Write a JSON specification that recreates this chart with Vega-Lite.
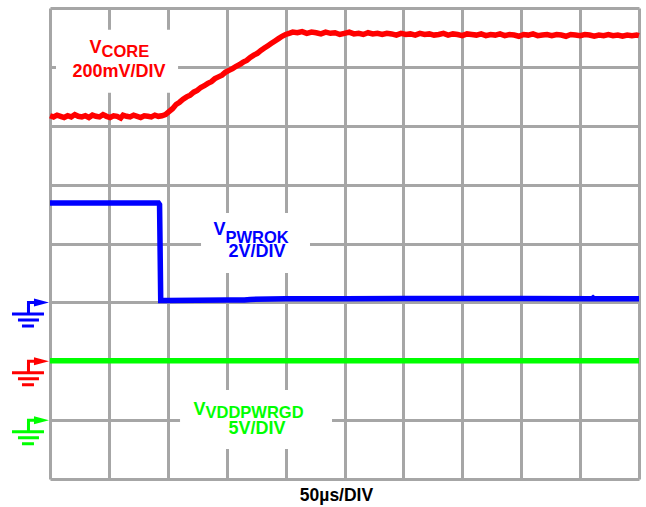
{
  "$schema": "https://vega.github.io/schema/vega-lite/v6.json",
  "autosize": {"type": "none"},
  "width": 589,
  "height": 471,
  "padding": {"left": 50, "top": 8, "right": 7, "bottom": 28},
  "background": "white",
  "config": {"view": {"stroke": null}, "font": "Liberation Sans"},
  "datasets": {
    "traces": [
      {"trace": "VCORE", "t": 0, "v": 6.17}, {"trace": "VCORE", "t": 3, "v": 6.15}, {"trace": "VCORE", "t": 6, "v": 6.18}, {"trace": "VCORE", "t": 9, "v": 6.16},
      {"trace": "VCORE", "t": 12, "v": 6.14}, {"trace": "VCORE", "t": 15, "v": 6.17}, {"trace": "VCORE", "t": 18, "v": 6.15}, {"trace": "VCORE", "t": 21, "v": 6.19},
      {"trace": "VCORE", "t": 24, "v": 6.16}, {"trace": "VCORE", "t": 27, "v": 6.15}, {"trace": "VCORE", "t": 30, "v": 6.17}, {"trace": "VCORE", "t": 33, "v": 6.14},
      {"trace": "VCORE", "t": 36, "v": 6.18}, {"trace": "VCORE", "t": 39, "v": 6.16}, {"trace": "VCORE", "t": 42, "v": 6.15}, {"trace": "VCORE", "t": 45, "v": 6.19},
      {"trace": "VCORE", "t": 48, "v": 6.16}, {"trace": "VCORE", "t": 51, "v": 6.14}, {"trace": "VCORE", "t": 54, "v": 6.17}, {"trace": "VCORE", "t": 57, "v": 6.16},
      {"trace": "VCORE", "t": 60, "v": 6.13}, {"trace": "VCORE", "t": 62, "v": 6.18}, {"trace": "VCORE", "t": 65, "v": 6.16}, {"trace": "VCORE", "t": 68, "v": 6.15},
      {"trace": "VCORE", "t": 71, "v": 6.18}, {"trace": "VCORE", "t": 74, "v": 6.16}, {"trace": "VCORE", "t": 77, "v": 6.14}, {"trace": "VCORE", "t": 80, "v": 6.17},
      {"trace": "VCORE", "t": 83, "v": 6.16}, {"trace": "VCORE", "t": 86, "v": 6.15}, {"trace": "VCORE", "t": 89, "v": 6.18}, {"trace": "VCORE", "t": 92, "v": 6.16},
      {"trace": "VCORE", "t": 95, "v": 6.17}, {"trace": "VCORE", "t": 98, "v": 6.19}, {"trace": "VCORE", "t": 101, "v": 6.24}, {"trace": "VCORE", "t": 104, "v": 6.29},
      {"trace": "VCORE", "t": 107, "v": 6.36}, {"trace": "VCORE", "t": 110, "v": 6.4}, {"trace": "VCORE", "t": 113, "v": 6.45}, {"trace": "VCORE", "t": 116, "v": 6.49},
      {"trace": "VCORE", "t": 119, "v": 6.52}, {"trace": "VCORE", "t": 122, "v": 6.57}, {"trace": "VCORE", "t": 125, "v": 6.6}, {"trace": "VCORE", "t": 128, "v": 6.65},
      {"trace": "VCORE", "t": 131, "v": 6.68}, {"trace": "VCORE", "t": 134, "v": 6.72}, {"trace": "VCORE", "t": 137, "v": 6.75}, {"trace": "VCORE", "t": 140, "v": 6.8},
      {"trace": "VCORE", "t": 143, "v": 6.83}, {"trace": "VCORE", "t": 146, "v": 6.86}, {"trace": "VCORE", "t": 149, "v": 6.91}, {"trace": "VCORE", "t": 152, "v": 6.94},
      {"trace": "VCORE", "t": 155, "v": 6.97}, {"trace": "VCORE", "t": 158, "v": 7.01}, {"trace": "VCORE", "t": 161, "v": 7.04}, {"trace": "VCORE", "t": 164, "v": 7.08},
      {"trace": "VCORE", "t": 167, "v": 7.11}, {"trace": "VCORE", "t": 170, "v": 7.16}, {"trace": "VCORE", "t": 173, "v": 7.2}, {"trace": "VCORE", "t": 176, "v": 7.23},
      {"trace": "VCORE", "t": 179, "v": 7.28}, {"trace": "VCORE", "t": 182, "v": 7.32}, {"trace": "VCORE", "t": 185, "v": 7.36}, {"trace": "VCORE", "t": 188, "v": 7.4},
      {"trace": "VCORE", "t": 191, "v": 7.44}, {"trace": "VCORE", "t": 194, "v": 7.48}, {"trace": "VCORE", "t": 197, "v": 7.52}, {"trace": "VCORE", "t": 200, "v": 7.55},
      {"trace": "VCORE", "t": 203, "v": 7.57}, {"trace": "VCORE", "t": 206, "v": 7.59}, {"trace": "VCORE", "t": 210, "v": 7.58}, {"trace": "VCORE", "t": 214, "v": 7.6},
      {"trace": "VCORE", "t": 218, "v": 7.57}, {"trace": "VCORE", "t": 222, "v": 7.59}, {"trace": "VCORE", "t": 226, "v": 7.58}, {"trace": "VCORE", "t": 230, "v": 7.56},
      {"trace": "VCORE", "t": 234, "v": 7.59}, {"trace": "VCORE", "t": 238, "v": 7.57}, {"trace": "VCORE", "t": 242, "v": 7.58}, {"trace": "VCORE", "t": 246, "v": 7.55},
      {"trace": "VCORE", "t": 250, "v": 7.57}, {"trace": "VCORE", "t": 254, "v": 7.59}, {"trace": "VCORE", "t": 258, "v": 7.56}, {"trace": "VCORE", "t": 262, "v": 7.57},
      {"trace": "VCORE", "t": 266, "v": 7.55}, {"trace": "VCORE", "t": 270, "v": 7.58}, {"trace": "VCORE", "t": 274, "v": 7.56}, {"trace": "VCORE", "t": 278, "v": 7.57},
      {"trace": "VCORE", "t": 282, "v": 7.55}, {"trace": "VCORE", "t": 286, "v": 7.57}, {"trace": "VCORE", "t": 290, "v": 7.56}, {"trace": "VCORE", "t": 294, "v": 7.54},
      {"trace": "VCORE", "t": 298, "v": 7.57}, {"trace": "VCORE", "t": 302, "v": 7.55}, {"trace": "VCORE", "t": 306, "v": 7.56}, {"trace": "VCORE", "t": 310, "v": 7.54},
      {"trace": "VCORE", "t": 314, "v": 7.57}, {"trace": "VCORE", "t": 318, "v": 7.55}, {"trace": "VCORE", "t": 322, "v": 7.56}, {"trace": "VCORE", "t": 326, "v": 7.54},
      {"trace": "VCORE", "t": 330, "v": 7.55}, {"trace": "VCORE", "t": 334, "v": 7.57}, {"trace": "VCORE", "t": 338, "v": 7.54}, {"trace": "VCORE", "t": 342, "v": 7.56},
      {"trace": "VCORE", "t": 346, "v": 7.55}, {"trace": "VCORE", "t": 350, "v": 7.53}, {"trace": "VCORE", "t": 354, "v": 7.56}, {"trace": "VCORE", "t": 358, "v": 7.55},
      {"trace": "VCORE", "t": 362, "v": 7.54}, {"trace": "VCORE", "t": 366, "v": 7.56}, {"trace": "VCORE", "t": 370, "v": 7.53}, {"trace": "VCORE", "t": 374, "v": 7.55},
      {"trace": "VCORE", "t": 378, "v": 7.54}, {"trace": "VCORE", "t": 382, "v": 7.56}, {"trace": "VCORE", "t": 386, "v": 7.53}, {"trace": "VCORE", "t": 390, "v": 7.55},
      {"trace": "VCORE", "t": 394, "v": 7.54}, {"trace": "VCORE", "t": 398, "v": 7.52}, {"trace": "VCORE", "t": 402, "v": 7.55}, {"trace": "VCORE", "t": 406, "v": 7.54},
      {"trace": "VCORE", "t": 410, "v": 7.56}, {"trace": "VCORE", "t": 414, "v": 7.53}, {"trace": "VCORE", "t": 418, "v": 7.54}, {"trace": "VCORE", "t": 422, "v": 7.55},
      {"trace": "VCORE", "t": 426, "v": 7.53}, {"trace": "VCORE", "t": 430, "v": 7.55}, {"trace": "VCORE", "t": 434, "v": 7.54}, {"trace": "VCORE", "t": 438, "v": 7.52},
      {"trace": "VCORE", "t": 442, "v": 7.55}, {"trace": "VCORE", "t": 446, "v": 7.54}, {"trace": "VCORE", "t": 450, "v": 7.53}, {"trace": "VCORE", "t": 454, "v": 7.55},
      {"trace": "VCORE", "t": 458, "v": 7.54}, {"trace": "VCORE", "t": 462, "v": 7.52}, {"trace": "VCORE", "t": 466, "v": 7.54}, {"trace": "VCORE", "t": 470, "v": 7.53},
      {"trace": "VCORE", "t": 474, "v": 7.55}, {"trace": "VCORE", "t": 478, "v": 7.53}, {"trace": "VCORE", "t": 482, "v": 7.54}, {"trace": "VCORE", "t": 486, "v": 7.52},
      {"trace": "VCORE", "t": 490, "v": 7.54}, {"trace": "VCORE", "t": 494, "v": 7.53}, {"trace": "VCORE", "t": 498, "v": 7.54}, {"trace": "VCORE", "t": 500, "v": 7.53},
      {"trace": "VPWROK", "t": 0, "v": 4.69}, {"trace": "VPWROK", "t": 92, "v": 4.69}, {"trace": "VPWROK", "t": 93, "v": 4.66}, {"trace": "VPWROK", "t": 94, "v": 3.03},
      {"trace": "VPWROK", "t": 100, "v": 3.03}, {"trace": "VPWROK", "t": 150, "v": 3.04}, {"trace": "VPWROK", "t": 165, "v": 3.04}, {"trace": "VPWROK", "t": 170, "v": 3.05},
      {"trace": "VPWROK", "t": 200, "v": 3.06}, {"trace": "VPWROK", "t": 250, "v": 3.06}, {"trace": "VPWROK", "t": 300, "v": 3.065}, {"trace": "VPWROK", "t": 400, "v": 3.065},
      {"trace": "VPWROK", "t": 460, "v": 3.06}, {"trace": "VPWROK", "t": 461, "v": 3.075}, {"trace": "VPWROK", "t": 462, "v": 3.06}, {"trace": "VPWROK", "t": 500, "v": 3.06},
      {"trace": "VVDDPWRGD", "t": 0, "v": 2.01}, {"trace": "VVDDPWRGD", "t": 500, "v": 2.01}
    ],
    "boxes": [
      {"t": 5.1, "t2": 108.7, "v": 7.63, "v2": 6.56},
      {"t": 128.2, "t2": 220.7, "v": 4.52, "v2": 3.5},
      {"t": 110.4, "t2": 239.4, "v": 1.51, "v2": 0.51}
    ],
    "grounds": [
      {"trace": "VPWROK", "t": -17, "v": 3},
      {"trace": "VCORE", "t": -17, "v": 2},
      {"trace": "VVDDPWRGD", "t": -17, "v": 1}
    ],
    "labels": [
      {"trace": "VCORE", "role": "V", "text": "V", "t": 43.7, "v": 7.235},
      {"trace": "VCORE", "role": "sub", "text": "CORE", "t": 43.7, "v": 7.168},
      {"trace": "VCORE", "role": "scale", "text": "200mV/DIV", "t": 58.6, "v": 6.828},
      {"trace": "VPWROK", "role": "V", "text": "V", "t": 149.0, "v": 4.144},
      {"trace": "VPWROK", "role": "sub", "text": "PWROK", "t": 149.0, "v": 4.008},
      {"trace": "VPWROK", "role": "scale", "text": "2V/DIV", "t": 175.7, "v": 3.771},
      {"trace": "VVDDPWRGD", "role": "V", "text": "V", "t": 132.0, "v": 1.087},
      {"trace": "VVDDPWRGD", "role": "sub", "text": "VDDPWRGD", "t": 132.0, "v": 1.036},
      {"trace": "VVDDPWRGD", "role": "scale", "text": "5V/DIV", "t": 175.7, "v": 0.764}
    ]
  },
  "encoding": {
    "x": {"field": "t", "type": "quantitative",
      "scale": {"domain": [0, 500], "nice": false, "zero": false},
      "axis": {"values": [0, 50, 100, 150, 200, 250, 300, 350, 400, 450, 500], "grid": true, "gridColor": "#a6a6a6", "gridWidth": 3, "labels": false, "ticks": false, "domain": false,
        "title": "50µs/DIV", "titleFont": "Liberation Sans", "titleFontWeight": "bold", "titleFontSize": 17.5, "titleColor": "#000000", "titlePadding": 7, "titleX": 286, "titleAlign": "center"}},
    "y": {"field": "v", "type": "quantitative",
      "scale": {"domain": [0, 8], "nice": false, "zero": false},
      "axis": {"values": [0, 1, 2, 3, 4, 5, 6, 7, 8], "grid": true, "gridColor": "#a6a6a6", "gridWidth": 3, "labels": false, "ticks": false, "domain": false, "title": null}}
  },
  "layer": [
    {
      "data": {"name": "boxes"},
      "mark": {"type": "rect", "color": "white"},
      "encoding": {"x2": {"field": "t2"}, "y2": {"field": "v2"}}
    },
    {
      "data": {"name": "traces"},
      "mark": {"type": "line", "strokeWidth": 5.5, "strokeJoin": "miter", "clip": false},
      "encoding": {
        "color": {"field": "trace", "type": "nominal", "scale": {"domain": ["VCORE", "VPWROK", "VVDDPWRGD"], "range": ["#ff0000", "#0000ff", "#00ff00"]}, "legend": null}
      }
    },
    {
      "data": {"name": "grounds"},
      "mark": {"type": "point", "filled": true, "opacity": 1, "size": 2500, "strokeWidth": 0,
        "shape": "M0.76,0L0.16,0.16L0.16,-0.16Z M-0.12,-0.06H0.17V0.06H-0.12Z M-0.12,-0.06H0V0.44H-0.12Z M-0.72,0.4H0.56V0.52H-0.72Z M-0.48,0.64H0.36V0.76H-0.48Z M-0.32,0.88H0.16V1H-0.32Z"},
      "encoding": {"color": {"field": "trace", "type": "nominal", "legend": null}}
    },
    {
      "data": {"name": "labels"},
      "transform": [{"filter": "datum.role === 'V'"}],
      "mark": {"type": "text", "align": "right", "baseline": "alphabetic", "font": "Liberation Sans", "fontWeight": "bold", "fontSize": 18},
      "encoding": {"text": {"field": "text"}, "color": {"field": "trace", "type": "nominal", "legend": null}}
    },
    {
      "data": {"name": "labels"},
      "transform": [{"filter": "datum.role === 'sub'"}],
      "mark": {"type": "text", "align": "left", "baseline": "alphabetic", "font": "Liberation Sans", "fontWeight": "bold", "fontSize": 16.5},
      "encoding": {"text": {"field": "text"}, "color": {"field": "trace", "type": "nominal", "legend": null}}
    },
    {
      "data": {"name": "labels"},
      "transform": [{"filter": "datum.role === 'scale'"}],
      "mark": {"type": "text", "align": "center", "baseline": "alphabetic", "font": "Liberation Sans", "fontWeight": "bold", "fontSize": 18},
      "encoding": {"text": {"field": "text"}, "color": {"field": "trace", "type": "nominal", "legend": null}}
    }
  ]
}
